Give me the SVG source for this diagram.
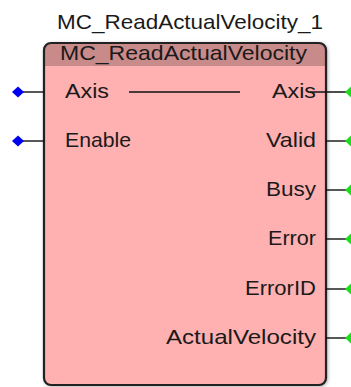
<svg xmlns="http://www.w3.org/2000/svg" width="351" height="387" viewBox="0 0 351 387">
  <style>
    .t { font-family: "Liberation Sans", Arial, sans-serif; font-size: 21px; fill: #1a1a1a; }
    .r { text-anchor: end; }
    .ln { stroke: #111; stroke-width: 1.4; fill: none; }
    .in { fill: #0000f0; }
    .out { fill: #1edc1e; }
  </style>
  <defs>
    <filter id="sh" x="-10%" y="-10%" width="120%" height="120%">
      <feDropShadow dx="1" dy="1" stdDeviation="2" flood-color="#555" flood-opacity="0.7"/>
    </filter>
    <clipPath id="boxclip">
      <rect x="44" y="43" width="282" height="342" rx="7"/>
    </clipPath>
  </defs>
  <rect width="351" height="387" fill="#fff"/>

  <g id="instance-label">
    <text class="t" x="57" y="29" textLength="266" lengthAdjust="spacingAndGlyphs">MC_ReadActualVelocity_1</text>
  </g>

  <g id="block">
    <rect x="44" y="43" width="282" height="342" rx="7" fill="#ffb0b0" filter="url(#sh)"/>
    <g clip-path="url(#boxclip)">
      <rect x="44" y="43" width="282" height="23" fill="#c98a8a"/>
    </g>
    <rect x="44" y="43" width="282" height="342" rx="7" fill="none" stroke="#222" stroke-width="2.2"/>
    <text class="t" x="60" y="60" textLength="247" lengthAdjust="spacingAndGlyphs">MC_ReadActualVelocity</text>
  </g>

  <g id="connectors">
    <line class="ln" x1="18" y1="92" x2="44" y2="92"/>
    <line class="ln" x1="18" y1="141" x2="44" y2="141"/>
    <line class="ln" x1="129" y1="92" x2="240" y2="92"/>
    <line class="ln" x1="310" y1="92" x2="351" y2="92"/>
    <line class="ln" x1="326" y1="141" x2="351" y2="141"/>
    <line class="ln" x1="326" y1="190" x2="351" y2="190"/>
    <line class="ln" x1="326" y1="239" x2="351" y2="239"/>
    <line class="ln" x1="326" y1="289" x2="351" y2="289"/>
    <line class="ln" x1="326" y1="338" x2="351" y2="338"/>
  </g>

  <g id="pin-in-Axis">
    <polygon class="in" points="18,86.5 24,92 18,97.5 12,92"/>
    <text class="t" x="65" y="98" textLength="44" lengthAdjust="spacingAndGlyphs">Axis</text>
  </g>
  <g id="pin-in-Enable">
    <polygon class="in" points="18,135.5 24,141 18,146.5 12,141"/>
    <text class="t" x="65" y="147" textLength="66" lengthAdjust="spacingAndGlyphs">Enable</text>
  </g>
  <g id="pin-out-Axis">
    <text class="t r" x="316" y="98" textLength="44" lengthAdjust="spacingAndGlyphs">Axis</text>
    <polygon class="out" points="351,86.5 357,92 351,97.5 345,92"/>
  </g>
  <g id="pin-out-Valid">
    <text class="t r" x="316" y="147" textLength="50" lengthAdjust="spacingAndGlyphs">Valid</text>
    <polygon class="out" points="351,135.5 357,141 351,146.5 345,141"/>
  </g>
  <g id="pin-out-Busy">
    <text class="t r" x="316" y="196" textLength="50" lengthAdjust="spacingAndGlyphs">Busy</text>
    <polygon class="out" points="351,184.5 357,190 351,195.5 345,190"/>
  </g>
  <g id="pin-out-Error">
    <text class="t r" x="316" y="245" textLength="48" lengthAdjust="spacingAndGlyphs">Error</text>
    <polygon class="out" points="351,233.5 357,239 351,244.5 345,239"/>
  </g>
  <g id="pin-out-ErrorID">
    <text class="t r" x="316" y="295" textLength="71" lengthAdjust="spacingAndGlyphs">ErrorID</text>
    <polygon class="out" points="351,283.5 357,289 351,294.5 345,289"/>
  </g>
  <g id="pin-out-ActualVelocity">
    <text class="t r" x="316" y="344" textLength="150" lengthAdjust="spacingAndGlyphs">ActualVelocity</text>
    <polygon class="out" points="351,332.5 357,338 351,343.5 345,338"/>
  </g>
</svg>
